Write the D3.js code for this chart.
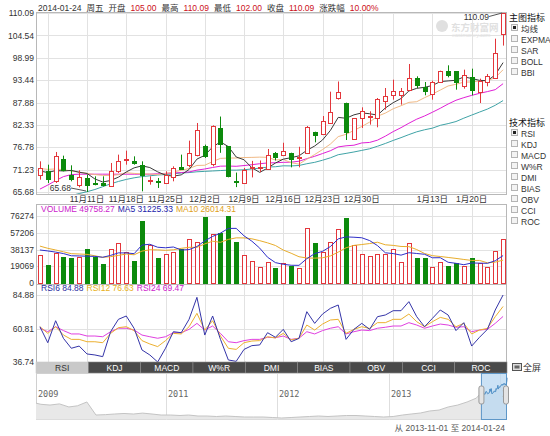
<!DOCTYPE html>
<html><head><meta charset="utf-8">
<script src="https://cdn.jsdelivr.net/npm/d3@7"></script>
<style>body{margin:0;background:#fff;} svg{display:block;}</style>
</head><body><svg id="c" width="550" height="436"></svg>
<script>
// ---------------- DATA ----------------
const dates = ["2013-11-01","2013-11-04","2013-11-05","2013-11-06","2013-11-07","2013-11-08","2013-11-11","2013-11-12","2013-11-13","2013-11-14","2013-11-15","2013-11-18","2013-11-19","2013-11-20","2013-11-21","2013-11-22","2013-11-25","2013-11-26","2013-11-27","2013-11-28","2013-11-29","2013-12-02","2013-12-03","2013-12-04","2013-12-05","2013-12-06","2013-12-09","2013-12-10","2013-12-11","2013-12-12","2013-12-13","2013-12-16","2013-12-17","2013-12-18","2013-12-19","2013-12-20","2013-12-23","2013-12-24","2013-12-25","2013-12-26","2013-12-27","2013-12-30","2013-12-31","2014-01-02","2014-01-03","2014-01-06","2014-01-07","2014-01-08","2014-01-09","2014-01-10","2014-01-13","2014-01-14","2014-01-15","2014-01-16","2014-01-17","2014-01-20","2014-01-21","2014-01-22","2014-01-23","2014-01-24"];
const open  = [69.98,70.81,68.49,73.87,69.98,67.50,69.16,68.00,67.92,67.09,70.81,73.62,73.46,72.30,68.33,68.49,67.92,69.32,71.81,72.30,74.95,77.01,72.63,81.60,77.01,68.40,67.92,71.60,71.60,71.47,75.30,74.85,75.43,74.20,75.43,80.64,79.98,82.88,89.00,87.84,78.91,84.04,84.40,84.04,88.18,89.67,89.83,90.90,93.96,91.65,90.00,92.97,95.78,95.62,91.90,94.13,90.49,92.97,93.96,105.00];
const high  = [73.29,72.46,75.61,74.70,72.30,71.06,69.98,69.57,69.57,72.88,74.95,75.94,74.53,73.29,69.57,69.16,70.81,72.05,74.95,78.42,82.80,77.43,82.22,84.40,77.01,70.50,71.64,73.40,73.50,76.35,75.60,77.90,75.43,76.90,82.05,80.64,84.53,90.57,93.10,87.84,84.04,86.69,85.70,89.00,91.48,93.55,91.48,97.44,94.38,92.97,93.30,95.78,97.11,95.62,96.03,96.28,93.80,94.96,103.72,110.09];
const low   = [68.74,67.92,67.92,70.81,68.33,66.84,65.68,67.34,67.09,67.09,70.40,72.46,72.46,65.85,67.50,66.68,67.67,68.33,71.39,71.81,74.53,74.12,72.05,75.40,69.32,66.90,67.92,69.30,70.60,71.30,73.50,74.60,71.80,71.80,75.10,78.00,79.82,82.71,88.60,78.58,78.91,81.56,82.39,81.73,86.11,88.59,87.35,90.82,91.48,89.67,88.59,92.97,94.13,91.07,91.32,89.67,87.76,91.90,93.80,102.00];
const close = [71.64,68.99,74.53,71.06,68.99,69.32,67.50,67.70,67.34,70.81,73.46,73.95,72.79,69.82,68.74,68.08,69.82,71.64,71.39,75.36,80.98,74.53,81.97,77.70,69.57,68.10,71.06,72.00,72.00,74.90,74.40,75.85,73.78,74.30,81.72,79.82,83.29,85.61,90.50,80.64,84.04,85.70,84.60,88.84,89.42,90.66,90.82,93.96,92.14,90.66,92.97,95.62,94.79,92.97,94.79,91.07,93.30,94.38,100.08,110.09];
const ma5   = [70.90,70.50,71.00,70.90,71.04,70.58,70.28,68.91,68.17,68.53,69.36,70.65,71.67,72.17,71.75,70.68,69.85,69.62,69.93,71.26,73.84,74.78,76.85,78.11,76.95,74.37,73.68,71.69,70.55,71.61,72.87,73.83,74.19,74.65,76.01,77.09,78.58,80.95,84.19,83.97,84.82,85.30,85.10,84.76,86.52,87.84,88.87,90.74,91.40,91.65,92.11,93.07,93.24,93.40,94.23,93.85,93.38,93.30,94.72,97.78];
const ma10  = [71.50,71.30,71.40,71.20,70.90,70.60,70.30,70.00,69.80,69.79,69.97,70.47,70.29,70.17,70.14,70.02,70.25,70.65,71.05,71.51,72.26,72.32,73.23,74.02,74.10,74.11,74.23,74.27,74.33,74.28,73.62,73.76,72.94,72.60,73.81,74.98,76.21,77.57,79.42,79.99,80.96,81.94,83.02,84.48,85.25,86.33,87.08,87.92,88.08,89.08,89.98,90.97,91.99,92.40,92.94,92.98,93.23,93.27,94.06,96.01];
const ma20  = [66.40,67.40,68.50,69.50,70.00,70.10,70.10,70.10,70.10,70.10,70.10,70.10,70.10,70.10,70.10,70.20,70.30,70.40,70.50,70.65,71.11,71.39,71.76,72.09,72.12,72.06,72.24,72.46,72.69,72.89,72.94,73.04,73.08,73.31,73.96,74.54,75.22,75.92,76.87,77.14,77.29,77.85,77.98,78.54,79.53,80.66,81.64,82.74,83.75,84.54,85.47,86.45,87.51,88.44,89.09,89.65,90.16,90.59,91.07,92.55];
const ma30  = [62.00,62.80,63.50,64.20,64.80,65.30,65.75,66.30,67.00,67.70,68.30,68.80,69.20,69.50,69.70,69.90,70.00,70.20,70.40,70.50,70.70,70.80,70.90,71.00,71.10,71.10,71.20,71.40,71.60,71.86,71.95,72.18,72.15,72.26,72.69,73.04,73.56,74.16,74.93,75.26,75.61,76.00,76.40,77.03,77.72,78.47,79.17,79.92,80.61,81.12,81.52,82.22,82.65,83.16,84.00,84.76,85.51,86.25,87.19,88.36];
const volume = [31900,20100,33800,29200,28100,29200,38400,29200,21600,38700,45900,35600,25000,70900,43300,28800,32600,35600,38400,49700,46300,74800,55800,57300,76274,47000,31900,25400,17800,24300,16700,22400,19700,17400,62200,45200,35600,47000,61100,73600,43300,32600,31100,32600,32600,38700,23500,45200,28100,28100,18400,24000,19500,22200,19916,28500,23000,18300,36569,49758.27];
const volMa5 = [37600,36500,35200,33500,31000,30800,30500,30300,29300,31400,34300,34200,33400,43200,44100,40700,40100,41000,37600,38000,41500,48000,53000,56800,62100,62200,53700,47600,39700,29300,23200,21300,20200,20100,27700,33400,36000,41500,50200,52500,52100,51500,48300,42600,34400,33500,31700,34500,33600,32700,28700,28800,23600,22400,20800,22800,22600,22400,25300,31225.33];
const volMa10 = [42000,39500,37600,35500,33400,33000,32600,31000,29200,30000,31400,33000,32100,36300,37800,37700,37200,37800,39500,40600,40600,44500,47600,46300,49600,51400,51300,50300,48200,45700,42700,37500,33900,29900,28500,28300,28700,30800,35200,40100,42800,43800,44900,46400,43500,42800,41600,41400,38100,33600,31100,30200,29100,28000,26800,25700,25700,23000,23800,26014.31];
const rsi6  = [62.1,50.6,66.4,53.7,46.6,48.2,42.5,41.8,40.6,58.5,67.4,69.8,60.9,45.4,41.8,36.74,46.6,58.5,57.8,67.4,83.2,56.1,69.8,53.0,38.2,37.2,45.8,48.5,49.0,57.8,54.5,60.2,51.3,53.7,72.9,64.5,71.2,75.3,77.7,53.0,60.2,64.5,60.2,69.3,70.5,73.6,73.6,80.1,69.3,62.1,68.1,74.1,70.5,59.3,65.0,48.2,54.5,60.2,74.1,84.88];
const rsi12 = [62.1,57.3,62.1,56.1,53.0,53.0,51.3,51.3,50.6,57.3,61.4,62.1,59.3,52.1,49.7,47.8,52.1,57.3,56.9,62.1,71.7,59.7,66.4,55.4,46.6,45.8,50.6,51.8,52.1,54.9,54.0,57.3,52.6,53.8,63.3,59.7,64.0,66.9,67.4,57.3,60.2,62.1,60.9,65.0,65.0,67.4,67.4,71.2,65.7,62.1,65.7,68.8,67.4,62.1,64.5,56.9,59.7,60.9,69.3,76.63];
const rsi24 = [61.0,58.5,62.1,59.3,56.9,56.9,55.4,55.4,54.9,58.5,61.0,61.0,59.7,56.1,54.9,53.8,54.9,57.8,57.8,60.2,64.5,59.7,62.6,57.3,51.3,50.6,52.1,53.0,53.0,54.5,54.2,55.4,53.0,53.8,58.5,56.9,59.3,61.0,62.1,56.9,58.5,59.7,59.3,61.0,61.7,62.6,62.6,65.0,63.3,61.0,62.6,64.0,63.3,61.7,62.1,58.5,59.7,60.2,64.5,69.47];

const priceTicks = [65.68,71.23,76.78,82.33,87.88,93.44,98.99,104.54,110.09];
const volTicks = [0,19069,38137,57206,76274];
const rsiTicks = [36.74,60.81,84.88];
const gridDates = ["2013-11-04","2013-11-11","2013-11-18","2013-11-25","2013-12-02","2013-12-09","2013-12-16","2013-12-23","2013-12-30","2014-01-06","2014-01-13","2014-01-20"];
const labelDates = ["2013-11-11","2013-11-18","2013-11-25","2013-12-02","2013-12-09","2013-12-16","2013-12-23","2013-12-30","2014-01-13","2014-01-20"];

const headerDate = "2014-01-24", headerDay = "周五";
const headerLabels = ["开盘","最高","最低","收盘","涨跌幅"];
const headerValues = ["105.00","110.09","102.00","110.09","10.00%"];
const volLegend = [["VOLUME","49758.27"],["MA5","31225.33"],["MA10","26014.31"]];
const rsiLegend = [["RSI6","84.88"],["RSI12","76.63"],["RSI24","69.47"]];
const mainIndicators = ["均线","EXPMA","SAR","BOLL","BBI"];
const techIndicators = ["RSI","KDJ","MACD","W%R","DMI","BIAS","OBV","CCI","ROC"];
const tabs = ["RSI","KDJ","MACD","W%R","DMI","BIAS","OBV","CCI","ROC"];
const navYears = [["2009-10-30","2009"],["2011-01-01","2011"],["2012-01-01","2012"],["2013-01-01","2013"],["2014-01-01","2014"]];
const navDates = ["2009-10-30","2009-11-15","2009-12-15","2010-01-15","2010-02-15","2010-03-15","2010-04-15","2010-05-15","2010-06-15","2010-07-15","2010-08-15","2010-09-15","2010-10-15","2010-11-15","2010-12-15","2011-01-15","2011-02-15","2011-03-15","2011-04-15","2011-05-15","2011-06-15","2011-07-15","2011-08-15","2011-09-15","2011-10-15","2011-11-15","2011-12-15","2012-01-15","2012-02-15","2012-03-15","2012-04-15","2012-05-15","2012-06-15","2012-07-15","2012-08-15","2012-09-15","2012-10-15","2012-11-15","2012-12-15","2013-01-15","2013-02-15","2013-03-15","2013-04-15","2013-05-15","2013-06-15","2013-07-15","2013-08-15","2013-09-15","2013-10-15"];
const navValues = [44,41,39,42,34,37,47,13,14,15.6,17,15.6,18,15.6,13,13,11.7,13,10.4,10.4,9.1,10.4,9.1,7.8,7.8,7.8,6.5,5.2,6.5,7.8,9.1,10.4,9.1,10.4,11.7,11.7,10.4,9.1,7.8,9.1,13,15.6,18.3,23.5,26,34,39,47,57];
const rangeText = ["从","2013-11-01","至","2014-01-24"];

// ---------------- DRAW ----------------
const svg = d3.select("#c").attr("font-family",'"Liberation Sans","Noto Sans CJK SC",sans-serif');
const RED="#e3363b", GREEN="#0c8a0c", GRID="#e2e2e2", BORDER="#b8b8b8", TXT="#333";
const X0=36, X1=507;
const parse = d3.timeParse("%Y-%m-%d");

const x = d3.scaleBand().domain(dates).range([X0,X1]).paddingInner(0.36).paddingOuter(0.18);
const cx = d => x(d) + x.bandwidth()/2;
const px = d => Math.round(cx(d)) + 0.5;
const yP = d3.scaleLinear().domain([65.68,110.09]).range([192,13]);
const yV = d3.scaleLinear().domain([0,76274]).range([283,216]);
const yR = d3.scaleLinear().domain([36.74,84.88]).range([362,295]);

const defs = svg.append("defs");
defs.append("clipPath").attr("id","clipMain").append("rect").attr("x",X0).attr("y",13).attr("width",X1-X0).attr("height",181);
defs.append("clipPath").attr("id","clipNav").append("rect").attr("x",X0).attr("y",373).attr("width",X1-X0).attr("height",47);

// header
const hdr = svg.append("text").attr("x",38).attr("y",10.5).attr("font-size",8.5).attr("fill",TXT);
hdr.append("tspan").text(headerDate);
hdr.append("tspan").attr("dx",5).text(headerDay);
headerLabels.forEach((l,i)=>{
  hdr.append("tspan").attr("dx",5).attr("fill",TXT).text(l);
  hdr.append("tspan").attr("dx",5).attr("fill","#cc1020").text(headerValues[i]);
});

// watermark (faint)
const wm = svg.append("g").attr("fill","#e0e0e0");
wm.append("circle").attr("cx",442).attr("cy",26).attr("r",6);
wm.append("text").attr("x",451).attr("y",31).attr("font-size",9.5).attr("font-weight","bold").text("东方财富网");
wm.append("text").attr("x",452).attr("y",37).attr("font-size",5.5).text("eastmoney.com");

function panel(y0,y1,yScale,ticks){
  const g = svg.append("g");
  g.selectAll(".h").data(ticks).join("line")
    .attr("x1",X0).attr("x2",X1)
    .attr("y1",d=>Math.round(yScale(d))+0.5).attr("y2",d=>Math.round(yScale(d))+0.5)
    .attr("stroke",GRID);
  g.selectAll(".v").data(gridDates).join("line")
    .attr("x1",px).attr("x2",px).attr("y1",y0).attr("y2",y1).attr("stroke",GRID);
  return g;
}
panel(13,194,yP,priceTicks);
panel(204,284,yV,volTicks.slice(1));
panel(284,362,yR,rsiTicks.slice(1));

// borders
svg.append("rect").attr("x",X0+0.5).attr("y",12.5).attr("width",X1-X0-1).attr("height",182).attr("fill","none").attr("stroke",BORDER);
svg.append("rect").attr("x",X0+0.5).attr("y",204.5).attr("width",X1-X0-1).attr("height",80).attr("fill","none").attr("stroke",BORDER);
svg.append("rect").attr("x",X0+0.5).attr("y",284.5).attr("width",X1-X0-1).attr("height",78).attr("fill","none").attr("stroke",BORDER);

// axes
function leftAxis(scale,ticks,fmt){
  const g = svg.append("g").attr("transform",`translate(${X0},0)`)
    .call(d3.axisLeft(scale).tickValues(ticks).tickFormat(fmt).tickSize(0).tickPadding(2));
  g.select(".domain").remove();
  g.selectAll("text").attr("font-size",8.5).attr("fill",TXT).attr("font-family",'"Liberation Sans",sans-serif');
}
leftAxis(yP,priceTicks,d=>d.toFixed(2));
leftAxis(yV,volTicks,d=>String(d));
leftAxis(yR,rsiTicks,d=>d.toFixed(2));
const xa = svg.append("g").attr("transform","translate(0,194)")
  .call(d3.axisBottom(x).tickValues(labelDates).tickSize(0).tickPadding(2)
    .tickFormat(d=>{const t=parse(d);return (t.getMonth()+1)+"月"+t.getDate()+"日";}));
xa.select(".domain").remove();
xa.selectAll("text").attr("font-size",8.5).attr("fill",TXT).attr("font-family",'"Liberation Sans","Noto Sans CJK SC",sans-serif');

// MA lines (main)
const cg = svg.append("g").attr("clip-path","url(#clipMain)");
const lineP = arr => d3.line().x((d,i)=>cx(dates[i])).y(d=>yP(d))(arr);
[[ma30,"#3fa3a6"],[ma20,"#e01fd6"],[ma10,"#f0b985"],[ma5,"#3a3a3a"]].forEach(([a,c])=>{
  cg.append("path").attr("d",lineP(a)).attr("fill","none").attr("stroke",c).attr("stroke-width",1);
});

// candles
dates.forEach((d,i)=>{
  const up = close[i]>=open[i], col = up?RED:GREEN;
  const xc = px(d);
  cg.append("line").attr("x1",xc).attr("x2",xc).attr("y1",yP(high[i])).attr("y2",yP(low[i])).attr("stroke",col);
  const t = Math.round(yP(Math.max(open[i],close[i])))+0.5;
  const b = Math.round(yP(Math.min(open[i],close[i])))+0.5;
  cg.append("rect").attr("x",xc-2).attr("y",t).attr("width",4).attr("height",Math.max(0.5,b-t))
    .attr("fill",up?"#fff":col).attr("stroke",col);
});

// max / min markers
const iMax = d3.maxIndex(high), iMin = d3.minIndex(low);
{
  const xm = cx(dates[iMax]), ym = yP(high[iMax]);
  svg.append("line").attr("x1",xm-14).attr("y1",ym+3.5).attr("x2",xm-1).attr("y2",ym).attr("stroke","#555");
  svg.append("text").attr("x",xm-14).attr("y",ym+7).attr("text-anchor","end").attr("font-size",8.5).attr("fill",TXT).text(high[iMax].toFixed(2));
  const xn = cx(dates[iMin]), yn = yP(low[iMin]);
  svg.append("line").attr("x1",xn-1).attr("y1",yn-1).attr("x2",xn-16).attr("y2",yn-4).attr("stroke","#555");
  svg.append("text").attr("x",xn-16).attr("y",yn-1).attr("text-anchor","end").attr("font-size",8.5).attr("fill",TXT).text(low[iMin].toFixed(2));
}

// volume bars
const vg = svg.append("g");
dates.forEach((d,i)=>{
  const up = close[i]>=open[i], col = up?RED:GREEN;
  const xc = px(d);
  const t = Math.round(yV(volume[i]))+0.5;
  vg.append("rect").attr("x",xc-2).attr("y",t).attr("width",4).attr("height",283.5-t)
    .attr("fill",up?"#fff":col).attr("stroke",col);
});
const lineV = arr => d3.line().x((d,i)=>cx(dates[i])).y(d=>yV(d))(arr);
vg.append("path").attr("d",lineV(volMa10)).attr("fill","none").attr("stroke","#e8ad2c");
vg.append("path").attr("d",lineV(volMa5)).attr("fill","none").attr("stroke","#2f2fc8");

// volume legend
const volCols = ["#cc22cc","#2222aa","#e0a020"];
const vl = svg.append("text").attr("x",41).attr("y",212).attr("font-size",8.5);
volLegend.forEach((p,i)=>vl.append("tspan").attr("dx",i?3:0).attr("fill",volCols[i]).text(p[0]+" "+p[1]));

// RSI lines
const rg = svg.append("g");
const lineR = arr => d3.line().x((d,i)=>cx(dates[i])).y(d=>yR(d))(arr);
rg.append("path").attr("d",lineR(rsi24)).attr("fill","none").attr("stroke","#e040e0");
rg.append("path").attr("d",lineR(rsi12)).attr("fill","none").attr("stroke","#ecb030");
rg.append("path").attr("d",lineR(rsi6)).attr("fill","none").attr("stroke","#3434a8");
const rsiCols = ["#2a2aa0","#e8b020","#cc22cc"];
const rl = svg.append("text").attr("x",41).attr("y",291).attr("font-size",8.5);
rsiLegend.forEach((p,i)=>rl.append("tspan").attr("dx",i?3:0).attr("fill",rsiCols[i]).text(p[0]+" "+p[1]));

// tabs
const tw = (X1-X0)/tabs.length;
const tg = svg.append("g");
tabs.forEach((t,i)=>{
  const sel = i===0;
  tg.append("rect").attr("x",X0+i*tw).attr("y",362).attr("width",tw).attr("height",11)
    .attr("fill",sel?"#c9c9c9":"#4a4a4a").attr("stroke",sel?"#c9c9c9":"#8a8a8a").attr("stroke-width",0.6);
  tg.append("text").attr("x",X0+i*tw+tw/2).attr("y",370.5).attr("text-anchor","middle")
    .attr("font-size",8.5).attr("fill",sel?"#333":"#fff").text(t);
});

// fullscreen
svg.append("rect").attr("x",512.5).attr("y",363.5).attr("width",9).attr("height",7).attr("fill","#ddd").attr("stroke","#555");
svg.append("rect").attr("x",514.5).attr("y",365.5).attr("width",5).attr("height",3).attr("fill","#666");
svg.append("text").attr("x",523).attr("y",371).attr("font-size",9).attr("fill",TXT).text("全屏");

// right indicator lists
function list(title,items,y0,checked){
  svg.append("text").attr("x",509).attr("y",y0).attr("font-size",9).attr("fill","#111").text(title);
  items.forEach((it,i)=>{
    const yy = y0 + 11 + i*11;
    svg.append("rect").attr("x",511.5).attr("y",yy-7.5).attr("width",6).attr("height",6).attr("fill","#f3f3f3").attr("stroke","#b4b4b4");
    if(i===checked) svg.append("rect").attr("x",513).attr("y",yy-6).attr("width",3).attr("height",3).attr("fill","#222");
    svg.append("text").attr("x",521).attr("y",yy).attr("font-size",8.5).attr("fill",TXT).text(it);
  });
}
list("主图指标",mainIndicators,21,0);
list("技术指标",techIndicators,126,0);

// navigator
const xN = d3.scaleTime().domain([parse("2009-10-30"),parse("2014-01-24")]).range([X0,X1]);
const yN = d3.scaleLinear().domain([0,120]).range([420,374]);
const navPts = navDates.map((d,i)=>[parse(d),navValues[i]]).concat(dates.map((d,i)=>[parse(d),close[i]]));
const ng = svg.append("g");
ng.append("rect").attr("x",X0+0.5).attr("y",373.5).attr("width",X1-X0-1).attr("height",46).attr("fill","#fff").attr("stroke","#d0d0d0");
ng.selectAll(".yl").data(navYears.slice(1)).join("line")
  .attr("x1",d=>Math.round(xN(parse(d[0])))+0.5).attr("x2",d=>Math.round(xN(parse(d[0])))+0.5)
  .attr("y1",374).attr("y2",420).attr("stroke","#dedede");
const area = d3.area().x(d=>xN(d[0])).y0(419.5).y1(d=>yN(d[1]));
const navLine = d3.line().x(d=>xN(d[0])).y(d=>yN(d[1]));
ng.append("path").attr("d",area(navPts)).attr("fill","#e8e8e8");
ng.append("path").attr("d",navLine(navPts)).attr("fill","none").attr("stroke","#c4c4c4");
const nlab = ng.append("g").attr("clip-path","url(#clipNav)");
navYears.forEach(d=>{
  nlab.append("text").attr("x",Math.round(xN(parse(d[0])))+2).attr("y",397).attr("font-size",8.5)
    .attr("fill","#666").attr("font-family",'"DejaVu Sans Mono",monospace').text(d[1]);
});
const sx0 = xN(parse(dates[0]));
ng.append("rect").attr("x",sx0).attr("y",373.5).attr("width",X1-0.5-sx0).attr("height",46).attr("fill","#b9d8f2").attr("fill-opacity",0.75).attr("stroke","#5e97c8");
const selPts = dates.map((d,i)=>[parse(d),close[i]]);
ng.append("path").attr("d",navLine(selPts)).attr("fill","none").attr("stroke","#4d8fc7");
[sx0, X1-1].forEach(hx=>{
  ng.append("rect").attr("x",hx-2.5).attr("y",386).attr("width",5).attr("height",18).attr("rx",2)
    .attr("fill","#e4e4e4").attr("stroke","#999");
});
svg.append("text").attr("x",X1-2).attr("y",431).attr("text-anchor","end").attr("font-size",8.5).attr("fill","#555")
  .text(rangeText.join(" "));
</script></body></html>
